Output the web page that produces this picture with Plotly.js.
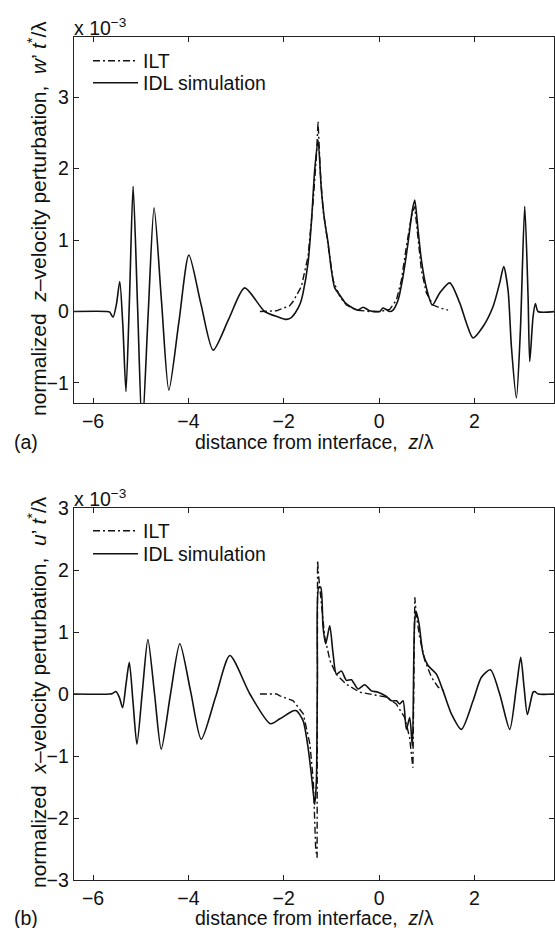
<!DOCTYPE html>
<html>
<head>
<meta charset="utf-8">
<script src="https://cdn.plot.ly/plotly-3.0.1.min.js"></script>
<style>html,body{margin:0;padding:0;background:#fff;}#chart{width:555px;height:928px;}</style>
</head>
<body>
<div id="chart"></div>
<script>
// Panel (a): normalized z-velocity perturbation (x 1e-3)
const aSimZ = [-6.40,-5.72,-5.65,-5.58,-5.51,-5.44,-5.375,-5.31,-5.235,-5.16,-5.065,-4.97,-4.845,-4.72,-4.565,-4.41,-4.20,-3.99,-3.735,-3.48,-3.15,-2.82,-2.40,-2.10,-1.95,-1.85,-1.75,-1.65,-1.594,-1.49,-1.42,-1.35,-1.28,-1.21,-1.14,-1.07,-1.00,-0.93,-0.825,-0.72,-0.58,-0.441,-0.336,-0.196,0.014,0.084,0.224,0.294,0.399,0.503,0.608,0.699,0.748,0.818,0.888,0.993,1.119,1.273,1.483,1.692,1.832,1.972,2.182,2.392,2.531,2.615,2.706,2.776,2.881,2.965,3.056,3.126,3.161,3.231,3.280,3.336,3.69];
const aSimW = [0,0,-0.01,-0.08,0.10,0.42,-0.20,-1.12,0.20,1.75,0.05,-1.65,-0.05,1.45,0.15,-1.10,-0.15,0.79,0.10,-0.54,-0.10,0.33,0,-0.08,-0.11,-0.09,-0.01,0.12,0.26,0.68,1.24,1.98,2.40,1.70,1.26,0.96,0.58,0.33,0.23,0.13,0.06,0.02,0.06,0.01,0,0.05,0,0.02,0.16,0.49,0.96,1.42,1.56,1.14,0.72,0.33,0.09,0.26,0.40,0.12,-0.16,-0.37,-0.21,0.07,0.40,0.63,0.30,-0.49,-1.21,-0.26,1.47,0.21,-0.70,-0.07,0.11,0,0];
const aIltZ = [-2.50,-2.15,-2.08,-1.874,-1.804,-1.629,-1.49,-1.385,-1.315,-1.28,-1.231,-1.175,-1.105,-1.035,-0.965,-0.825,-0.685,-0.476,-0.196,0.014,0.224,0.364,0.469,0.573,0.678,0.748,0.818,0.888,0.993,1.133,1.273,1.448];
const aIltW = [0,0.01,0.03,0.08,0.14,0.35,0.77,1.52,2.17,2.66,1.93,1.42,1.10,0.77,0.44,0.21,0.09,0.02,0,0,0.03,0.16,0.44,0.91,1.33,1.47,1.05,0.58,0.26,0.09,0.05,0.02];

// Panel (b): normalized x-velocity perturbation (x 1e-3)
const bSimZ = [-6.40,-5.65,-5.59,-5.52,-5.45,-5.38,-5.31,-5.24,-5.16,-5.08,-4.965,-4.85,-4.71,-4.57,-4.375,-4.18,-3.955,-3.73,-3.43,-3.13,-2.71,-2.28,-2.08,-1.80,-1.73,-1.594,-1.49,-1.406,-1.35,-1.315,-1.294,-1.266,-1.224,-1.175,-1.119,-1.035,-0.965,-0.895,-0.79,-0.685,-0.58,-0.441,-0.301,-0.161,-0.021,0.154,0.259,0.364,0.434,0.503,0.573,0.643,0.699,0.748,0.783,0.839,0.923,1.028,1.203,1.343,1.517,1.727,1.972,2.147,2.336,2.531,2.741,2.881,2.972,3.042,3.112,3.231,3.266,3.336,3.69];
const bSimU = [0,0,0.01,0.04,-0.05,-0.22,0.15,0.51,-0.15,-0.81,0.05,0.88,0,-0.89,0,0.81,0.05,-0.73,-0.05,0.62,0,-0.48,-0.40,-0.27,-0.27,-0.43,-0.86,-1.40,-1.78,-1.40,0.22,1.72,1.72,1.08,0.81,1.10,0.65,0.32,0.37,0.22,0.23,0.08,0.15,0.05,0.03,-0.04,-0.11,-0.11,-0.16,-0.11,-0.57,-0.38,-0.84,1.19,1.32,1.13,0.65,0.46,0.32,0.05,-0.32,-0.57,-0.11,0.27,0.39,0,-0.57,0.11,0.59,0.11,-0.33,0.03,0.04,0,0];
const bIltZ = [-2.50,-2.15,-2.08,-1.80,-1.59,-1.45,-1.38,-1.33,-1.30,-1.29,-1.266,-1.21,-1.14,-1.03,-0.90,-0.69,-0.41,-0.13,0.15,0.36,0.54,0.64,0.71,0.75,0.78,0.85,0.96,1.10,1.24,1.41];
const bIltU = [0,0,-0.03,-0.11,-0.32,-0.81,-1.40,-2.48,-2.64,2.16,1.89,1.45,0.92,0.54,0.32,0.16,0.03,-0.01,-0.05,-0.16,-0.38,-0.70,-1.19,1.56,1.29,0.92,0.54,0.27,0.11,0.03];

const xTicks = [-6,-4,-2,0,2];
const aYTicks = [-1,0,1,2,3];
const bYTicks = [-3,-2,-1,0,1,2,3];
const legendNames = ['ILT','IDL simulation'];
const xLabel = 'distance from interface,\u00a0\u00a0<i>z</i>/λ';
const aYLabel = 'normalized\u00a0\u00a0<i>z</i>–velocity perturbation,\u00a0\u00a0<i>w</i>\u2019 <i>t</i><sup>*</sup>/λ';
const bYLabel = 'normalized\u00a0\u00a0<i>x</i>–velocity perturbation,\u00a0\u00a0<i>u</i>\u2019 <i>t</i><sup>*</sup>/λ';
const scaleLabel = 'x 10<sup>−3</sup>';

const FONT = 'Liberation Sans, Arial, Helvetica, sans-serif';
const FS = 19.5;
const W = 555, H = 928, ML = 74, MR = 1;
const px = v => (v - ML) / (W - ML - MR);
const py = v => (H - v) / H;

const ILTDASH = '7px,3px,2px,3px';
const traces = [
  {x: aIltZ, y: aIltW, xaxis:'x', yaxis:'y', name: legendNames[0], legend:'legend', mode:'lines', line:{color:'#111', width:1.4, dash:ILTDASH}},
  {x: aSimZ, y: aSimW, xaxis:'x', yaxis:'y', name: legendNames[1], legend:'legend2', mode:'lines', line:{color:'#111', width:1.6, shape:'spline', smoothing:0.7}},
  {x: bIltZ, y: bIltU, xaxis:'x2', yaxis:'y2', name: legendNames[0], legend:'legend3', mode:'lines', line:{color:'#111', width:1.4, dash:ILTDASH}},
  {x: bSimZ, y: bSimU, xaxis:'x2', yaxis:'y2', name: legendNames[1], legend:'legend4', mode:'lines', line:{color:'#111', width:1.6, shape:'spline', smoothing:0.7}}
];

const axCommon = {
  showgrid:false, zeroline:false, showline:true, linecolor:'#222', linewidth:1.3,
  mirror:'allticks', ticks:'inside', ticklen:5, tickwidth:1, tickcolor:'#222',
  tickfont:{family:FONT, size:FS, color:'#111'}
};
const xRange = [-6.4, 3.67];

const legendCommon = {
  font:{family:FONT, size:FS, color:'#111'}, bgcolor:'rgba(0,0,0,0)', borderwidth:0,
  xanchor:'left', yanchor:'middle', itemwidth:45, x:px(88)
};
const txt = (text, x, y, xa, ya, extra) => Object.assign({text, xref:'paper', yref:'paper', x:px(x), y:py(y), xanchor:xa, yanchor:ya, showarrow:false, font:{family:FONT, size:FS, color:'#111'}}, extra || {});
const yLabFont = {family:FONT, size:21, color:'#111'};

const layout = {
  width: W, height: H,
  margin:{l:ML, r:MR, t:0, b:0},
  paper_bgcolor:'#fff', plot_bgcolor:'#fff',
  font:{family:FONT, size:FS, color:'#111'},
  showlegend:true,
  xaxis: Object.assign({}, axCommon, {range:xRange, tickvals:xTicks, anchor:'y', domain:[0,1]}),
  yaxis: Object.assign({}, axCommon, {range:[-1.28,3.84], tickvals:aYTicks, anchor:'x', domain:[py(403), py(37)]}),
  xaxis2: Object.assign({}, axCommon, {range:xRange, tickvals:xTicks, anchor:'y2', domain:[0,1]}),
  yaxis2: Object.assign({}, axCommon, {range:[-3,3], tickvals:bYTicks, anchor:'x2', domain:[py(880), py(508)]}),
  legend: Object.assign({}, legendCommon, {y:py(61)}),
  legend2: Object.assign({}, legendCommon, {y:py(83)}),
  legend3: Object.assign({}, legendCommon, {y:py(531)}),
  legend4: Object.assign({}, legendCommon, {y:py(554)}),
  annotations:[
    txt(scaleLabel, 72, 41, 'left', 'bottom'),
    txt(scaleLabel, 72, 512, 'left', 'bottom'),
    txt('(a)', 26, 442, 'center', 'middle'),
    txt('(b)', 26, 918, 'center', 'middle'),
    txt(xLabel, 314, 442, 'center', 'middle'),
    txt(xLabel, 314, 918, 'center', 'middle'),
    txt(aYLabel, 37, 219, 'center', 'middle', {textangle:-90, font:yLabFont}),
    txt(bYLabel, 37, 692, 'center', 'middle', {textangle:-90, font:yLabFont})
  ]
};

Plotly.newPlot('chart', traces, layout, {staticPlot:true, displayModeBar:false});
</script>
</body>
</html>
